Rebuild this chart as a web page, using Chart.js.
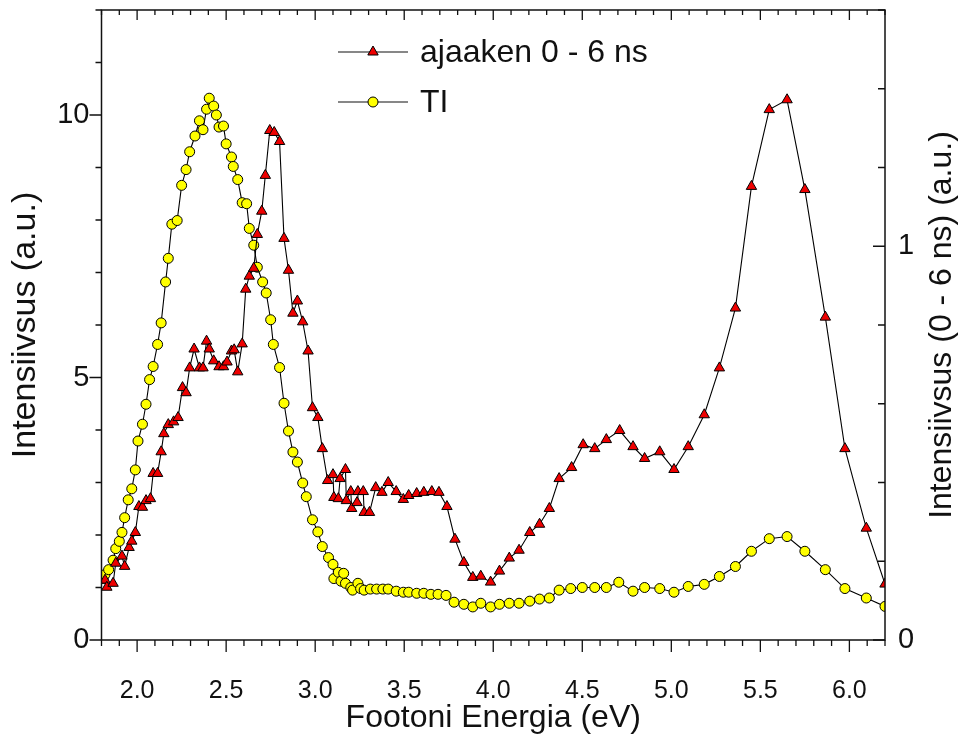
<!DOCTYPE html>
<html>
<head>
<meta charset="utf-8">
<script src="https://cdn.jsdelivr.net/npm/chart.js@4.4.0/dist/chart.umd.min.js"></script>
<style>
  html, body { margin: 0; padding: 0; background: #fff; }
  #wrap { width: 959px; height: 738px; }
</style>
</head>
<body>
<div id="wrap"><canvas id="chart" width="959" height="738"></canvas></div>
<script>
// TI spectrum, left axis
const tiEnergy = [1.81, 1.82, 1.84, 1.865, 1.88, 1.90, 1.915, 1.93, 1.95, 1.97, 1.99, 2.005, 2.03, 2.05, 2.07, 2.09,
  2.115, 2.135, 2.16, 2.175, 2.195, 2.225, 2.25, 2.275, 2.295, 2.325, 2.35, 2.37, 2.39, 2.405, 2.43, 2.445, 2.46,
  2.485, 2.50, 2.53, 2.54, 2.565, 2.59, 2.615, 2.63, 2.655, 2.675, 2.705, 2.725, 2.75, 2.765, 2.80, 2.825, 2.85,
  2.875, 2.90, 2.93, 2.95, 2.985, 3.015, 3.04, 3.075, 3.10, 3.105, 3.13, 3.145, 3.16, 3.17, 3.20, 3.21, 3.24, 3.255,
  3.275, 3.31, 3.345, 3.38, 3.41, 3.455, 3.495, 3.525, 3.57, 3.61, 3.65, 3.69, 3.735, 3.78, 3.835, 3.885, 3.93,
  3.985, 4.035, 4.09, 4.145, 4.205, 4.26, 4.315, 4.37, 4.435, 4.50, 4.57, 4.635, 4.705, 4.785, 4.85, 4.935, 5.015,
  5.095, 5.185, 5.27, 5.36, 5.45, 5.55, 5.65, 5.75, 5.865, 5.975, 6.095, 6.20];
const tiIntensity = [1.17, 1.25, 1.34, 1.52, 1.74, 1.88, 2.05, 2.33, 2.67, 2.88, 3.24, 3.79, 4.11, 4.49, 4.96, 5.21,
  5.63, 6.04, 6.82, 7.27, 7.92, 7.99, 8.66, 8.96, 9.30, 9.60, 9.89, 9.72, 10.11, 10.32, 10.17, 10.00, 9.77,
  9.79, 9.45, 9.20, 9.02, 8.77, 8.33, 8.31, 7.84, 7.52, 7.10, 6.82, 6.61, 6.10, 5.63, 5.19, 4.51, 3.98,
  3.58, 3.39, 2.99, 2.73, 2.29, 2.06, 1.78, 1.57, 1.44, 1.17, 1.29, 1.12, 1.27, 1.08, 1.00, 0.95, 1.08, 0.98,
  0.95, 0.97, 0.97, 0.97, 0.97, 0.93, 0.91, 0.91, 0.89, 0.89, 0.87, 0.87, 0.85, 0.72, 0.68, 0.63, 0.70,
  0.63, 0.68, 0.70, 0.70, 0.74, 0.78, 0.80, 0.95, 0.98, 1.00, 1.00, 1.00, 1.10, 0.93, 1.00, 0.98, 0.91,
  1.02, 1.06, 1.21, 1.40, 1.69, 1.93, 1.97, 1.69, 1.34, 0.98, 0.80, 0.64];

// 0 - 6 ns time window, right axis
const fastEnergy = [1.82, 1.83, 1.865, 1.88, 1.915, 1.93, 1.955, 1.97, 1.99, 2.01, 2.03, 2.05, 2.075, 2.09, 2.115,
  2.135, 2.15, 2.175, 2.205, 2.23, 2.255, 2.275, 2.295, 2.32, 2.35, 2.37, 2.39, 2.405, 2.43, 2.46, 2.485, 2.505,
  2.53, 2.545, 2.565, 2.59, 2.61, 2.63, 2.655, 2.675, 2.70, 2.72, 2.745, 2.77, 2.80, 2.825, 2.85, 2.875, 2.90,
  2.93, 2.96, 2.985, 3.015, 3.04, 3.07, 3.10, 3.105, 3.13, 3.14, 3.17, 3.175, 3.20, 3.205, 3.235, 3.24, 3.27,
  3.275, 3.305, 3.34, 3.375, 3.41, 3.455, 3.495, 3.525, 3.57, 3.61, 3.655, 3.695, 3.74, 3.785, 3.835, 3.885,
  3.93, 3.985, 4.035, 4.09, 4.145, 4.205, 4.26, 4.315, 4.37, 4.44, 4.505, 4.57, 4.635, 4.71, 4.785, 4.85,
  4.935, 5.015, 5.095, 5.185, 5.27, 5.36, 5.45, 5.55, 5.65, 5.75, 5.865, 5.975, 6.095, 6.20];
const fastIntensity = [0.152, 0.134, 0.144, 0.195, 0.213, 0.187, 0.235, 0.251, 0.273, 0.339, 0.337, 0.354, 0.359,
  0.423, 0.423, 0.478, 0.524, 0.547, 0.554, 0.565, 0.641, 0.628, 0.691, 0.739, 0.691, 0.691, 0.759, 0.739, 0.709,
  0.694, 0.694, 0.706, 0.734, 0.737, 0.681, 0.752, 0.891, 0.924, 0.944, 1.030, 1.089, 1.180, 1.294, 1.289, 1.266,
  1.020, 0.939, 0.830, 0.861, 0.808, 0.734, 0.590, 0.565, 0.486, 0.405, 0.420, 0.362, 0.359, 0.410, 0.433,
  0.354, 0.377, 0.334, 0.349, 0.377, 0.377, 0.324, 0.324, 0.387, 0.375, 0.400, 0.377, 0.357, 0.367, 0.372,
  0.375, 0.377, 0.375, 0.339, 0.256, 0.197, 0.159, 0.162, 0.147, 0.175, 0.208, 0.228, 0.273, 0.294, 0.334,
  0.410, 0.438, 0.496, 0.486, 0.509, 0.532, 0.491, 0.461, 0.478, 0.433, 0.491, 0.572, 0.691, 0.843, 1.152,
  1.347, 1.372, 1.144, 0.820, 0.486, 0.284, 0.142];

const xTicks = [2.0, 2.5, 3.0, 3.5, 4.0, 4.5, 5.0, 5.5, 6.0];
const leftTicks = [0, 5, 10];
const rightTicks = [0, 1];

const FONT = "'Liberation Sans', Arial, sans-serif";
const INK = '#111';
const RIGHT_TITLE = 'Intensiivsus (0 - 6 ns) (a.u.)';

function pts(xs, ys) {
  return xs.map((x, i) => ({ x: x, y: ys[i] }));
}

// box frame with major/minor tick marks, drawn through the scales
const framePlugin = {
  id: 'frame',
  afterDatasetsDraw(chart) {
    const { ctx, chartArea: a, scales } = chart;
    const xs = scales.x, yl = scales.y, yr = scales.y1;
    ctx.save();
    ctx.strokeStyle = INK;
    ctx.lineWidth = 1.5;
    ctx.strokeRect(a.left, a.top, a.right - a.left, a.bottom - a.top);
    ctx.lineWidth = 1.3;
    ctx.beginPath();
    for (let i = 0; i <= 44; i++) {
      const v = 1.8 + i * 0.1;
      const px = xs.getPixelForValue(v);
      const major = Math.abs(v * 2 - Math.round(v * 2)) < 1e-6;
      ctx.moveTo(px, a.bottom); ctx.lineTo(px, a.bottom + (major ? 12 : 6));
      ctx.moveTo(px, a.top); ctx.lineTo(px, a.top + (major ? 10 : 5));
    }
    for (let v = 0; v <= 12; v++) {
      const py = yl.getPixelForValue(v);
      ctx.moveTo(a.left, py); ctx.lineTo(a.left - (v % 5 === 0 ? 12 : 6), py);
    }
    for (let i = 0; i <= 8; i++) {
      const py = yr.getPixelForValue(i * 0.2);
      ctx.moveTo(a.right, py); ctx.lineTo(a.right - (i % 5 === 0 ? 12 : 7), py);
    }
    ctx.stroke();
    ctx.restore();
  }
};

// legend inside the plot (line - marker - line) and the right axis title, read bottom to top
const legendPlugin = {
  id: 'innerLegend',
  afterDraw(chart) {
    const ctx = chart.ctx;
    const rows = [
      { ds: chart.data.datasets[0], y: 52 },
      { ds: chart.data.datasets[1], y: 102 }
    ];
    ctx.save();
    rows.forEach(r => {
      ctx.strokeStyle = INK;
      ctx.lineWidth = 1.2;
      ctx.beginPath();
      ctx.moveTo(338, r.y); ctx.lineTo(408, r.y);
      ctx.stroke();
      ctx.fillStyle = r.ds.pointBackgroundColor;
      ctx.strokeStyle = '#000';
      ctx.lineWidth = 1;
      Chart.helpers.drawPoint(ctx, {
        pointStyle: r.ds.pointStyle, radius: r.ds.pointRadius, borderWidth: 1, rotation: 0
      }, 373, r.y);
      ctx.fillStyle = INK;
      ctx.font = '32px ' + FONT;
      ctx.textBaseline = 'middle';
      ctx.textAlign = 'left';
      ctx.fillText(r.ds.label, 420, r.y + 1);
    });

    const yr = chart.scales.y1;
    ctx.translate(yr.right - 17, (chart.chartArea.top + chart.chartArea.bottom) / 2);
    ctx.rotate(-Math.PI / 2);
    ctx.fillStyle = INK;
    ctx.font = '32px ' + FONT;
    ctx.textAlign = 'center';
    ctx.textBaseline = 'middle';
    ctx.fillText(RIGHT_TITLE, 0, 0);
    ctx.restore();
  }
};

function noVerticalPadding(s, width) {
  s.width = width;
  s.paddingTop = 0;
  s.paddingBottom = 0;
}

const ctx = document.getElementById('chart').getContext('2d');

const chart = new Chart(ctx, {
  type: 'line',
  data: {
    datasets: [
      {
        label: 'ajaaken 0 - 6 ns',
        data: pts(fastEnergy, fastIntensity),
        yAxisID: 'y1',
        borderColor: '#000',
        borderWidth: 1.1,
        pointStyle: 'triangle',
        pointRadius: 6,
        pointBackgroundColor: '#ee0000',
        pointBorderColor: '#000',
        pointBorderWidth: 1
      },
      {
        label: 'TI',
        data: pts(tiEnergy, tiIntensity),
        yAxisID: 'y',
        borderColor: '#000',
        borderWidth: 1.1,
        pointStyle: 'circle',
        pointRadius: 5,
        pointBackgroundColor: '#ffff00',
        pointBorderColor: '#000',
        pointBorderWidth: 1
      }
    ]
  },
  options: {
    responsive: false,
    animation: false,
    layout: { padding: { top: 10, left: 0, right: 0, bottom: 0 } },
    plugins: {
      legend: { display: false },
      tooltip: { enabled: false }
    },
    scales: {
      x: {
        type: 'linear',
        min: 1.8,
        max: 6.2,
        grid: { display: false, drawTicks: false },
        border: { display: false },
        afterBuildTicks: s => { s.ticks = xTicks.map(v => ({ value: v })); },
        afterFit: s => { s.height = 98; s.paddingLeft = 0; s.paddingRight = 0; },
        ticks: {
          padding: 36,
          color: INK,
          font: { family: FONT, size: 25 },
          callback: v => v.toFixed(1),
          maxRotation: 0
        },
        title: {
          display: true,
          text: 'Footoni Energia (eV)',
          color: INK,
          font: { family: FONT, size: 32 },
          padding: { top: 0, bottom: 1 }
        }
      },
      y: {
        position: 'left',
        min: 0,
        max: 12,
        grid: { display: false, drawTicks: false },
        border: { display: false },
        afterBuildTicks: s => { s.ticks = leftTicks.map(v => ({ value: v })); },
        afterFit: s => noVerticalPadding(s, 101.5),
        ticks: {
          padding: 12,
          color: INK,
          font: { family: FONT, size: 29 }
        },
        title: {
          display: true,
          text: 'Intensiivsus (a.u.)',
          color: INK,
          font: { family: FONT, size: 34 },
          padding: { top: 5, bottom: 0 }
        }
      },
      y1: {
        position: 'right',
        min: 0,
        max: 1.6,
        grid: { display: false, drawTicks: false },
        border: { display: false },
        afterBuildTicks: s => { s.ticks = rightTicks.map(v => ({ value: v })); },
        afterFit: s => noVerticalPadding(s, 74),
        ticks: {
          padding: 13,
          color: INK,
          font: { family: FONT, size: 29 }
        }
      }
    }
  },
  plugins: [framePlugin, legendPlugin]
});
</script>
</body>
</html>
